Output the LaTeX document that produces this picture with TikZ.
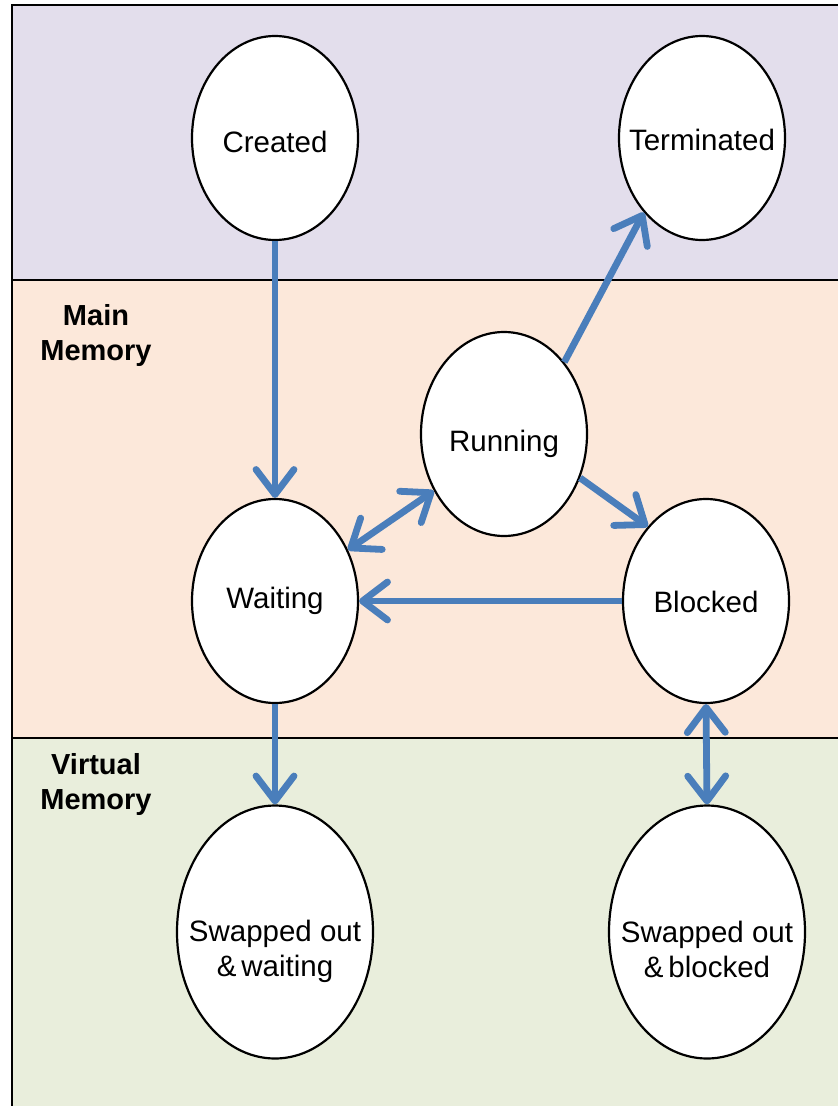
\documentclass[tikz,border=0pt]{standalone}
\usepackage{fontspec}
\setmainfont{Liberation Sans}
\usetikzlibrary{shapes.geometric,arrows.meta}
\definecolor{bandtop}{RGB}{227,222,236}
\definecolor{bandmid}{RGB}{252,232,218}
\definecolor{bandlow}{RGB}{233,238,220}
\definecolor{arrowblue}{RGB}{74,126,187}
\tikzset{
  state/.style={ellipse, draw=black, line width=2.2pt, fill=white, inner sep=0pt,
    minimum width=166pt, minimum height=204pt},
  bigstate/.style={state, minimum width=196pt, minimum height=253pt},
  statetext/.style={font=\fontsize{29.5}{35}\selectfont, align=center, inner sep=0pt},
  flow/.style={draw=arrowblue, line width=6.8pt,
    -{Straight Barb[length=25pt, width=38pt, line cap=round, line join=round]}},
  flowboth/.style={flow, {Straight Barb[length=25pt, width=38pt, line cap=round, line join=round]}-{Straight Barb[length=25pt, width=38pt, line cap=round, line join=round]}},
  bandlabel/.style={font=\fontsize{29}{35}\selectfont\bfseries, align=center, anchor=base},
  frame/.style={draw=black, line width=2.2pt}
}
\begin{document}
\begin{tikzpicture}[x=1pt, y=-1pt]
\useasboundingbox (0,0) rectangle (838,1106);
% bands
\fill[bandtop] (12,5) rectangle (838,280);
\fill[bandmid] (12,280) rectangle (838,738);
\fill[bandlow] (12,738) rectangle (838,1106);
\draw[frame] (12,1106) -- (12,5) -- (838,5);
\draw[frame] (12,280) -- (838,280);
\draw[frame] (12,738) -- (838,738);
% labels
\node[bandlabel] (mainlbl) at (96,360) {Main\\Memory};
\node[bandlabel] (virtlbl) at (96,809) {Virtual\\Memory};
% states
\node[state, label={[statetext, yshift=-4pt]center:Created}] (created) at (275,138) {};
\node[state, label={[statetext, yshift=-2pt]center:Terminated}] (terminated) at (702,138) {};
\node[state, label={[statetext, yshift=-10pt]center:Running}] (running) at (504,434) {};
\node[state, label={[statetext, yshift=0pt]center:Waiting}] (waiting) at (275,601) {};
\node[state, label={[statetext, yshift=-1pt]center:Blocked}] (blocked) at (706,601) {};
\node[bigstate, label={[statetext, yshift=-19pt]center:Swapped out\\\&\,waiting}] (swapw) at (275,932) {};
\node[bigstate, label={[statetext, yshift=-17pt]center:Swapped out\\\&\,blocked}] (swapb) at (707,932) {};
% transitions
\draw[flow] (created.south) -- (waiting.north);
\draw[flow] (running.50) -- (terminated.232);
\draw[flowboth] (running.219) -- (waiting.35);
\draw[flow] (running.330) -- (blocked.128);
\draw[flow] (blocked.west) -- (waiting.east);
\draw[flow] (waiting.south) -- (swapw.north);
\draw[flowboth] (blocked.south) -- (swapb.north);
\end{tikzpicture}
\end{document}
